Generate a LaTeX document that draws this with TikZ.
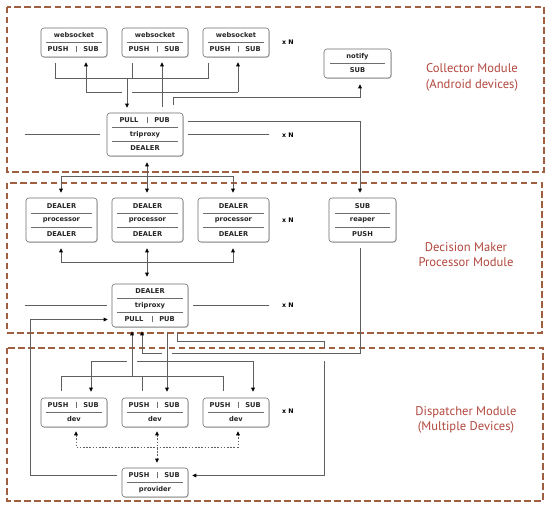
\documentclass[tikz,border=0pt]{standalone}
\usepackage{fontspec}
\setmainfont{DejaVu Sans}
\newfontfamily\labfont{PT Sans}
\usetikzlibrary{arrows.meta,calc,shadows}
\definecolor{modc}{RGB}{160,95,65}
\definecolor{labc}{RGB}{178,72,62}
\definecolor{linec}{RGB}{95,95,95}
\definecolor{boxc}{RGB}{110,110,110}
\newcommand\bx[5]{\node[mbox, minimum width=#4, minimum height=#5] (#1) at (#2,#3) {};}
\newcommand\splitrow[4]{\node[btxt] at (#1-16,#2) {#3};\draw[sep] (#1+2,#2-3) -- (#1+2,#2+3);\node[btxt] at (#1+17,#2) {#4};}
\newcommand\sepl[3]{\draw[sep] (#1,#3) -- (#2,#3);}
\begin{document}
\begin{tikzpicture}[x=1pt,y=-1pt,
 module/.style={draw=modc, line width=1.4pt, dash pattern=on 6.5pt off 3.5pt},
 mbox/.style={draw=boxc, line width=0.6pt, rounded corners=3pt, fill=white, drop shadow={shadow xshift=0.8pt,shadow yshift=-0.9pt,opacity=0.35}, inner sep=0pt},
 btxt/.style={font=\fontsize{6.7}{7}\selectfont\bfseries, inner sep=0pt, text=black!85},
 sep/.style={draw=boxc, line width=0.5pt},
 conn/.style={draw=linec, line width=0.7pt},
 tipx/.tip={Triangle[length=4pt,width=3.6pt,color=black,fill=black]},
 arr/.style={conn, -tipx},
 arrS/.style={conn, tipx-},
 arr2/.style={conn, tipx-tipx},
 darr2/.style={conn, tipx-tipx, dash pattern=on 1.6pt off 1.6pt},
 xn/.style={font=\fontsize{6.3}{7}\selectfont\bfseries, inner sep=0pt},
 modlab/.style={font=\labfont\fontsize{12.6}{15.5}\selectfont, text=labc, align=center, inner sep=0pt}
]
\fill[white] (0,0) rectangle (550,508);
\useasboundingbox (0,0) rectangle (550,508);

% modules
\draw[module] (7,7) rectangle (544,172);
\draw[module] (7,183) rectangle (542,333);
\draw[module] (7,348) rectangle (543,501);
\node[modlab] (lab1) at (472,77.5) {Collector Module\\(Android devices)};
\node[modlab] (lab2) at (466,254.5) {Decision Maker\\Processor Module};
\node[modlab] (lab3) at (466,420) {Dispatcher Module\\(Multiple Devices)};

% ---------- top module boxes
\bx{ws1}{74}{42.5}{66}{29}
\node[btxt] at (74,35.5) {websocket}; \sepl{46}{102}{42.5} \splitrow{74}{49.5}{PUSH}{SUB}
\bx{ws2}{155}{42.5}{66}{29}
\node[btxt] at (155,35.5) {websocket}; \sepl{127}{183}{42.5} \splitrow{155}{49.5}{PUSH}{SUB}
\bx{ws3}{236}{42.5}{66}{29}
\node[btxt] at (236,35.5) {websocket}; \sepl{208}{264}{42.5} \splitrow{236}{49.5}{PUSH}{SUB}
\node[xn] (xn1) at (288,42) {x N};
\bx{notify}{357.5}{63.5}{67}{29}
\node[btxt] at (357.5,57) {notify}; \sepl{330}{385}{63.5} \node[btxt] at (357.5,70.5) {SUB};
\bx{tp1}{145}{134.5}{76}{43}
\splitrow{145}{120.5}{PULL}{PUB} \sepl{112}{178}{127.5}
\node[btxt] at (145,134.5) {triproxy}; \sepl{112}{178}{141.5}
\node[btxt] at (145,148.5) {DEALER};
\node[xn] (xn2) at (288,135) {x N};

% ---------- middle module boxes
\bx{p1}{61.5}{220}{71}{44}
\node[btxt] at (61.5,206) {DEALER}; \sepl{31}{92}{213} \node[btxt] at (61.5,220) {processor}; \sepl{31}{92}{227} \node[btxt] at (61.5,234) {DEALER};
\bx{p2}{147.5}{220}{71}{44}
\node[btxt] at (147.5,206) {DEALER}; \sepl{117}{178}{213} \node[btxt] at (147.5,220) {processor}; \sepl{117}{178}{227} \node[btxt] at (147.5,234) {DEALER};
\bx{p3}{233.5}{220}{71}{44}
\node[btxt] at (233.5,206) {DEALER}; \sepl{203}{264}{213} \node[btxt] at (233.5,220) {processor}; \sepl{203}{264}{227} \node[btxt] at (233.5,234) {DEALER};
\node[xn] (xn3) at (288,220) {x N};
\bx{reaper}{362.5}{220}{67}{44}
\node[btxt] at (362.5,206) {SUB}; \sepl{335}{390}{213} \node[btxt] at (362.5,220) {reaper}; \sepl{335}{390}{227} \node[btxt] at (362.5,234) {PUSH};
\bx{tp2}{150}{305.5}{76}{43}
\node[btxt] at (150,291.5) {DEALER}; \sepl{117}{183}{298.5}
\node[btxt] at (150,305.5) {triproxy}; \sepl{117}{183}{312.5}
\splitrow{150}{319.5}{PULL}{PUB}
\node[xn] (xn4) at (288,305) {x N};

% ---------- bottom module boxes
\bx{dev1}{74}{412.5}{66}{29}
\splitrow{74}{405}{PUSH}{SUB} \sepl{46}{102}{412} \node[btxt] at (74,419.5) {dev};
\bx{dev2}{155}{412.5}{66}{29}
\splitrow{155}{405}{PUSH}{SUB} \sepl{127}{183}{412} \node[btxt] at (155,419.5) {dev};
\bx{dev3}{236}{412.5}{66}{29}
\splitrow{236}{405}{PUSH}{SUB} \sepl{208}{264}{412} \node[btxt] at (236,419.5) {dev};
\node[xn] (xn5) at (288,411) {x N};
\bx{prov}{155}{482.5}{66}{29}
\splitrow{155}{475.5}{PUSH}{SUB} \sepl{127}{183}{482.5} \node[btxt] at (155,489.5) {provider};

% ---------- side lines (x N)
\draw[conn] ($(tp1.west)+(-82,0)$) -- ($(tp1.west)+(-7,0)$);
\draw[conn] ($(tp1.east)+(5,0)$) -- ($(tp1.east)+(86,0)$);
\draw[conn] ($(tp2.west)+(-87,0)$) -- ($(tp2.west)+(-5,0)$);
\draw[conn] ($(tp2.east)+(5,0)$) -- ($(tp2.east)+(81,0)$);

% ---------- top connectors
\draw[conn] ($(ws1.south)+(-19,6)$) -- ++(0,15) -| ($(ws3.south)+(-28,6)$);
\draw[conn] ($(ws2.south)+(-23,6)$) -- ++(0,15);
\draw[arr] ($(tp1.north)+(-18,-35)$) -- ($(tp1.north)+(-18,-5)$);
\draw[arr] ($(tp1.north)+(17,-6)$) -- ($(ws2.south)+(7,5)$);
\draw[arr] ($(ws1.south)+(12,35)$) -- ($(ws1.south)+(12,5)$);
\draw[arr] ($(ws3.south)+(2,35)$) -- ($(ws3.south)+(2,5)$);
\draw[conn] ($(ws1.south)+(12,35)$) -- ($(ws2.south)+(-33,35)$);
\draw[conn] ($(ws2.south)+(-23,35)$) -- ($(ws3.south)+(2,35)$);
\draw[arr] ($(tp1.north)+(28,-8)$) -- ++(0,-7) -| ($(notify.south)+(2.5,6)$);
\draw[arr] ($(tp1.east)+(5,-13.5)$) -| ($(reaper.north)+(-2.5,-5)$);
\draw[arr2] ($(tp1.south)+(2,6)$) -- ($(p2.north)+(-0.5,-5)$);
\draw[arr2] ($(p1.north)+(-0.5,-5)$) -- ($(p1.north)+(-0.5,-21)$) -| ($(p3.north)+(-0.5,-5)$);

% ---------- middle connectors
\draw[arr2] ($(p1.south)+(-0.5,6)$) -- ($(p1.south)+(-0.5,20)$) -| ($(p3.south)+(-0.5,6)$);
\draw[arr2] ($(p2.south)+(-0.5,6)$) -- ($(tp2.north)+(-3,-7)$);
\draw[arr] ($(prov.west)+(-5,-7)$) -- ($(prov.west)+(-91,-7)$) |- ($(tp2.west)+(-4,14)$);
\draw[arr] ($(tp2.south)+(-18,50)$) -- ($(tp2.south)+(-18,4)$);
\draw[conn] ($(reaper.south)+(-2.5,6)$) |- ($(tp2.south)+(22,26)$);
\draw[arr] ($(tp2.south)+(12,26)$) -| ($(tp2.south)+(-8,4)$);
\draw[arr] ($(tp2.south)+(17,6)$) -- ($(dev2.north)+(12,-6)$);
\draw[conn] ($(tp2.south)+(27,6)$) -- ($(tp2.south)+(27,14)$) -| ($(tp2.south)+(174,21)$);
\draw[arr] ($(tp2.south)+(174,34)$) |- ($(prov.east)+(4,-7)$);

% ---------- bottom connectors
\draw[arrS] ($(dev1.north)+(17,-6)$) |- ($(dev1.north)+(53,-36)$);
\draw[arr] ($(dev2.north)+(-18,-36)$) -| ($(dev3.north)+(17,-6)$);
\draw[conn] ($(dev1.north)+(-13,-7)$) -- ($(dev1.north)+(-13,-21)$) -| ($(dev3.north)+(-13,-7)$);
\draw[conn] ($(dev2.north)+(-13,-7)$) -- ($(dev2.north)+(-13,-21)$);
\draw[darr2] ($(dev1.south)+(2,4)$) -- ($(dev1.south)+(2,20)$) -| ($(dev3.south)+(2,4)$);
\draw[darr2] ($(dev2.south)+(2,4)$) -- ($(prov.north)+(2,-5)$);
\end{tikzpicture}
\end{document}
